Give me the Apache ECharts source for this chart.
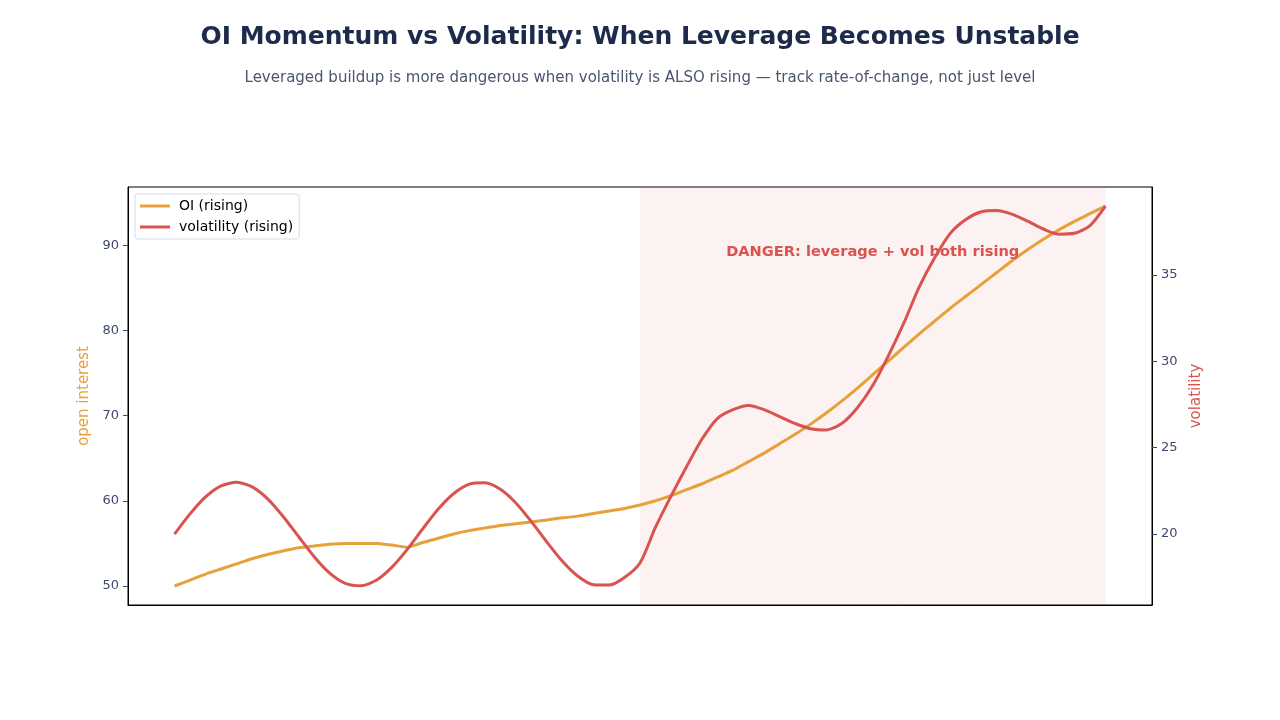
<!DOCTYPE html>
<html>
<head>
<meta charset="utf-8">
<script src="https://cdn.jsdelivr.net/npm/echarts@6/dist/echarts.min.js"></script>
<style>
html,body{margin:0;padding:0;background:#fff;}
#chart{width:1280px;height:720px;}
</style>
</head>
<body>
<div id="chart"></div>
<script>
// time steps (index units)
const tValues = [0,0.5,1,1.5,2,2.5,3,3.5,4,4.5,5,5.5,6,6.5,7,7.5,8,8.5,9,9.5,10,10.5,11,11.5,12,12.5,13,13.5,14,14.5,15,15.5,16,16.5,17,17.5,18,18.5,19,19.5,20,20.5,21,21.5,22,22.5,23,23.5,24,24.5,25,25.5,26,26.5,27,27.5,28,28.5,29,29.5,30];
// open interest (left axis)
const oiValues = [50.0,50.7,51.4,52.0,52.6,53.2,53.7,54.1,54.5,54.7,54.9,55.0,55.0,55.0,54.8,54.55,55.1,55.6,56.1,56.5,56.8,57.1,57.3,57.5,57.75,58.0,58.2,58.5,58.8,59.1,59.5,60.0,60.6,61.3,62.0,62.8,63.6,64.6,65.6,66.7,67.8,69.0,70.3,71.7,73.2,74.8,76.4,78.0,79.6,81.1,82.6,84.0,85.4,86.8,88.2,89.5,90.7,91.8,92.8,93.7,94.6];
// volatility (right axis)
const volValues = [20.0,21.17,22.15,22.79,23.0,22.73,22.04,21.02,19.85,18.69,17.74,17.15,17.01,17.33,18.08,19.12,20.31,21.45,22.35,22.89,22.97,22.59,21.80,20.72,19.54,18.43,17.56,17.07,17.05,17.49,18.33,20.4,22.2,23.9,25.5,26.7,27.2,27.44,27.2,26.8,26.4,26.1,26.03,26.4,27.3,28.6,30.3,32.2,34.3,36.0,37.4,38.2,38.65,38.72,38.5,38.1,37.65,37.35,37.4,37.85,38.98];
const oiTicks = [50,60,70,80,90];
const volTicks = [20,25,30,35];
const dangerRange = [15, 30];
const dangerLabel = {t: 22.5, oi: 89.2, text: 'DANGER: leverage + vol both rising'};

const ORANGE = '#e8a03a';
const RED = '#d9534f';
const FONT = '"DejaVu Sans", sans-serif';

const chart = echarts.init(document.getElementById('chart'));
chart.setOption({
  animation: false,
  backgroundColor: '#ffffff',
  textStyle: {fontFamily: FONT},
  title: [
    {text: 'OI Momentum vs Volatility: When Leverage Becomes Unstable', left: 'center', top: 20,
     textStyle: {fontFamily: FONT, fontSize: 25, fontWeight: 'bold', color: '#1e2a4a'}},
    {text: 'Leveraged buildup is more dangerous when volatility is ALSO rising — track rate-of-change, not just level', left: 'center', top: 66,
     textStyle: {fontFamily: FONT, fontSize: 15, fontWeight: 'normal', color: '#4a5570'}}
  ],
  legend: {
    orient: 'vertical', left: 135, top: 194,
    backgroundColor: '#ffffff', borderColor: '#d5dbe5', borderWidth: 1, borderRadius: 3,
    padding: [5, 6, 5, 5], itemGap: 7, itemWidth: 30, itemHeight: 3, icon: 'rect',
    textStyle: {fontFamily: FONT, fontSize: 14, color: '#000', padding: [0, 0, 0, 4]},
    data: ['OI (rising)', 'volatility (rising)']
  },
  grid: {left: 128, right: 128, top: 187, bottom: 115, show: true, borderColor: '#000', borderWidth: 1, backgroundColor: 'transparent'},
  xAxis: {
    type: 'value', min: -1.5, max: 31.5,
    axisLine: {show: true, onZero: false, lineStyle: {color: '#000', width: 1}},
    axisTick: {show: false}, axisLabel: {show: false}, splitLine: {show: false}
  },
  yAxis: [
    {
      type: 'value', position: 'left', min: 47.77, max: 96.83,
      name: 'open interest', nameLocation: 'middle', nameGap: 34, nameRotate: 90,
      nameTextStyle: {fontFamily: FONT, fontSize: 15, color: ORANGE},
      axisLine: {show: true, onZero: false, lineStyle: {color: '#000', width: 1}},
      axisTick: {show: true, length: 5, customValues: oiTicks, lineStyle: {color: '#3d4a6b'}},
      axisLabel: {customValues: oiTicks, fontFamily: FONT, fontSize: 13, color: '#3d4a6b', margin: 9},
      splitLine: {show: false}
    },
    {
      type: 'value', position: 'right', min: 15.9, max: 40.08,
      name: 'volatility', nameLocation: 'middle', nameGap: 32, nameRotate: 90,
      nameTextStyle: {fontFamily: FONT, fontSize: 15, color: RED},
      axisLine: {show: true, onZero: false, lineStyle: {color: '#000', width: 1}},
      axisTick: {show: true, length: 5, customValues: volTicks, lineStyle: {color: '#3d4a6b'}},
      axisLabel: {customValues: volTicks, fontFamily: FONT, fontSize: 13, color: '#3d4a6b', margin: 9},
      splitLine: {show: false}
    }
  ],
  series: [
    {
      name: 'OI (rising)', type: 'line', yAxisIndex: 0, showSymbol: false, smooth: 0.25,
      lineStyle: {color: ORANGE, width: 3}, itemStyle: {color: ORANGE},
      data: tValues.map((t, i) => [t, oiValues[i]]),
      markArea: {
        silent: true,
        itemStyle: {color: 'rgba(217,83,79,0.08)'},
        data: [[{xAxis: dangerRange[0]}, {xAxis: dangerRange[1]}]]
      },
      markPoint: {
        silent: true, symbol: 'circle', symbolSize: 0,
        label: {show: true, position: 'inside', formatter: dangerLabel.text,
                fontFamily: FONT, fontSize: 14.6, fontWeight: 'bold', color: RED},
        data: [{coord: [dangerLabel.t, dangerLabel.oi]}]
      },
      z: 2
    },
    {
      name: 'volatility (rising)', type: 'line', yAxisIndex: 1, showSymbol: false, smooth: 0.25,
      lineStyle: {color: RED, width: 3}, itemStyle: {color: RED},
      data: tValues.map((t, i) => [t, volValues[i]]),
      z: 3
    }
  ]
});
</script>
</body>
</html>
